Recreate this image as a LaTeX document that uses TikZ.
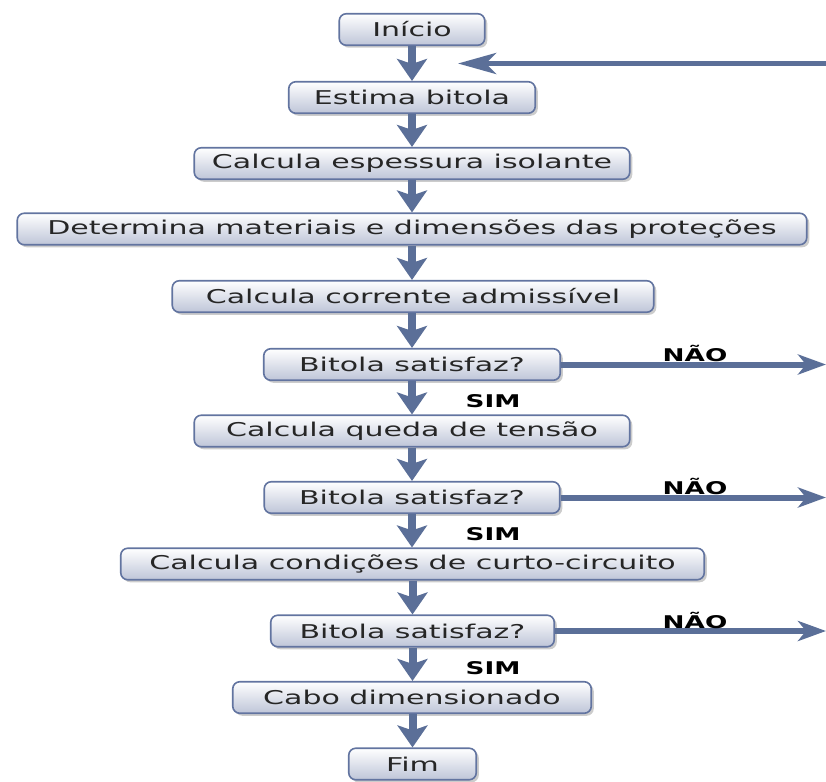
\documentclass[tikz,border=0pt]{standalone}
\usepackage{fontspec}
\setmainfont{DejaVu Sans}[FakeStretch=1.58]
\newfontfamily\rotfont{DejaVu Sans}[FakeStretch=1.5]
\usetikzlibrary{arrows.meta,shadows}
\definecolor{seta}{RGB}{91,111,152}
\definecolor{borda}{RGB}{98,116,160}
\definecolor{fundo}{RGB}{190,197,216}
\begin{document}
\begin{tikzpicture}[x=1pt,y=-1pt,
	caixa/.style={draw=borda, line width=1.6pt, rounded corners=7pt,
		top color=white, bottom color=fundo, minimum height=31.5pt, inner sep=0pt,
		font=\fontsize{19}{22}\selectfont, text=black!85,
		drop shadow={opacity=0.4, shadow xshift=2.5pt, shadow yshift=-2.5pt}},
	desce/.style={seta, line width=8pt, -{Stealth[length=22pt,width=30pt,inset=5pt]}},
	nao/.style={seta, line width=6pt, -{Stealth[length=28pt,width=20pt,inset=8pt]}},
	rotulo/.style={font=\rotfont\bfseries\fontsize{17.5}{20}\selectfont, inner sep=1pt}]
				\useasboundingbox (0,0) rectangle (826,781);
				% caixas
				\node[caixa, minimum width=145.5pt] (inicio) at (412,29.5) {Início};
				\node[caixa, minimum width=246.5pt] (estima) at (412,97.5) {Estima bitola};
				\node[caixa, minimum width=435.5pt] (isol) at (412,163.5) {Calcula espessura isolante};
				\node[caixa, minimum width=789.5pt] (prot) at (412,229) {Determina materiais e dimensões das proteções};
				\node[caixa, minimum width=481.5pt] (corr) at (413,296.5) {Calcula corrente admissível};
				\node[caixa, minimum width=296.5pt] (bit1) at (412,364.5) {Bitola satisfaz?};
				\node[caixa, minimum width=435.5pt] (queda) at (412,431) {Calcula queda de tensão};
				\node[caixa, minimum width=295.5pt] (bit2) at (412,497.5) {Bitola satisfaz?};
				\node[caixa, minimum width=583.5pt] (curto) at (412.5,564) {Calcula condições de curto-circuito};
				\node[caixa, minimum width=283.5pt] (bit3) at (412.5,631) {Bitola satisfaz?};
				\node[caixa, minimum width=358.5pt] (cabo) at (412,697.5) {Cabo dimensionado};
				\node[caixa, minimum width=127.5pt] (fim) at (412.5,764) {Fim};
				% pontas livres
				\coordinate (volta) at (826,63.5);
				\coordinate (voltafim) at (458,63.5);
				\coordinate (sai1) at (826,364.5);
				\coordinate (sai2) at (826,497.5);
				\coordinate (sai3) at (826,631);
				% setas
				\draw[desce] (inicio.south) -- (estima.north);
				\draw[desce] (estima.south) -- (isol.north);
				\draw[desce] (isol.south) -- (prot.north);
				\draw[desce] (prot.south) -- (corr.north -| prot.south);
				\draw[desce] (corr.south -| prot.south) -- (bit1.north);
				\draw[desce] (bit1.south) -- (queda.north);
				\draw[desce] (queda.south) -- (bit2.north);
				\draw[desce] (bit2.south) -- (curto.north -| bit2.south);
				\draw[desce] (curto.south) -- (bit3.north);
				\draw[desce] (bit3.south) -- (cabo.north -| bit3.south);
				\draw[desce] (cabo.south -| fim.north) -- (fim.north);
				\draw[nao] (bit1.east) -- (sai1);
				\draw[nao] (bit2.east) -- (sai2);
				\draw[nao] (bit3.east) -- (sai3);
				\draw[seta, line width=5pt, -{Stealth[length=38pt,width=21pt,inset=10pt]}] (volta) -- (voltafim);
				% rotulos
				\node[rotulo] (nao1) at (695,353.5) {NÃO};
				\node[rotulo] (nao2) at (695,486.5) {NÃO};
				\node[rotulo] (nao3) at (695,620) {NÃO};
				\node[rotulo] (sim1) at (493,401) {SIM};
				\node[rotulo] (sim2) at (493,534) {SIM};
				\node[rotulo] (sim3) at (493,668) {SIM};
			\end{tikzpicture}
\end{document}
